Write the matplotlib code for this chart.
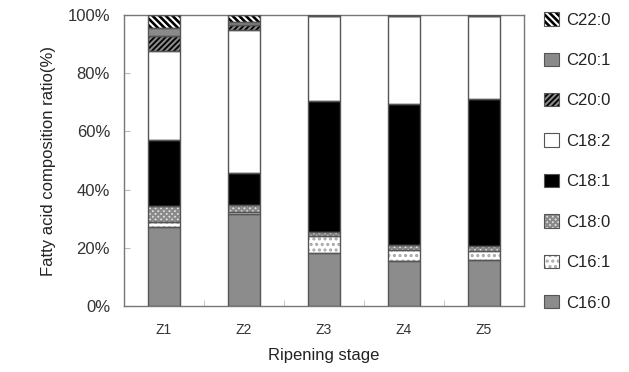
import matplotlib
matplotlib.use("Agg")
import matplotlib.pyplot as plt
import numpy as np
from matplotlib.patches import Patch

plt.rcParams['font.family'] = ['Liberation Sans', 'DejaVu Sans']
plt.rcParams['hatch.linewidth'] = 1.5

stages = ["Z1", "Z2", "Z3", "Z4", "Z5"]
acids = ["C16:0", "C16:1", "C18:0", "C18:1", "C18:2", "C20:0", "C20:1", "C22:0"]
# percentage of each fatty acid per stage
c16_0 = [27.2, 31.5, 18.3, 15.6, 15.8]
c16_1 = [1.8, 0.9, 5.9, 3.6, 3.1]
c18_0 = [5.5, 2.3, 1.1, 1.8, 1.7]
c18_1 = [22.5, 11.1, 45.1, 48.3, 50.5]
c18_2 = [30.7, 49.0, 29.1, 30.2, 28.4]
c20_0 = [5.2, 1.8, 0.2, 0.2, 0.2]
c20_1 = [2.5, 0.9, 0.2, 0.2, 0.2]
c22_0 = [4.6, 2.5, 0.1, 0.1, 0.1]
series = [c16_0, c16_1, c18_0, c18_1, c18_2, c20_0, c20_1, c22_0]

styles = [
    dict(fc="#8c8c8c", hatch=None, hc=None),
    dict(fc="white", hatch="...", hc="#a8a8a8"),
    dict(fc="#e0e0e0", hatch="xxxxxx", hc="#8a8a8a"),
    dict(fc="black", hatch=None, hc=None),
    dict(fc="white", hatch=None, hc=None),
    dict(fc="black", hatch="//////", hc="#8a8a8a"),
    dict(fc="#8a8a8a", hatch=None, hc=None),
    dict(fc="black", hatch="\\" * 5, hc="white"),
]

fig = plt.figure(figsize=(6.29, 3.72), dpi=100)
ax = fig.add_axes([0.197, 0.177, 0.636, 0.783])

x = np.arange(len(stages))
w = 0.41
bottom = np.zeros(len(stages))
for vals, st in zip(series, styles):
    vals = np.array(vals)
    if st["hatch"]:
        ax.bar(x, vals, w, bottom=bottom, color=st["fc"], edgecolor=st["hc"],
               hatch=st["hatch"], linewidth=0, zorder=2)
    else:
        ax.bar(x, vals, w, bottom=bottom, color=st["fc"], linewidth=0, zorder=2)
    ax.bar(x, vals, w, bottom=bottom, fill=False, edgecolor="#555555",
           linewidth=1.0, zorder=3)
    bottom += vals

ax.set_xlim(-0.5, len(stages) - 0.5)
ax.set_ylim(0, 100)
ax.set_xticks(x)
ax.set_xticklabels(stages)
ax.set_xticks(np.arange(0.5, len(stages) - 1, 1.0), minor=True)
ax.tick_params(axis="x", which="major", length=0, pad=12, labelsize=10, labelcolor="#333333")
ax.tick_params(axis="x", which="minor", direction="in", length=4, color="#bbbbbb")
ax.set_yticks(np.arange(0, 101, 20))
ax.set_yticklabels([f"{v}%" for v in range(0, 101, 20)])
ax.tick_params(axis="y", direction="in", length=4, color="#bbbbbb", labelsize=12,
               pad=10, labelcolor="#333333")
for s in ax.spines.values():
    s.set_color("#777777")
    s.set_linewidth(1.0)

ax.set_xlabel("Ripening stage", fontsize=12, labelpad=8, color="#222222")
ax.set_ylabel("Fatty acid composition ratio(%)", fontsize=12, labelpad=8, color="#222222")

handles = []
for name, st in zip(acids, styles):
    outline = Patch(facecolor="none", edgecolor="#555555", linewidth=0.8)
    if st["hatch"]:
        fill = Patch(facecolor=st["fc"], edgecolor=st["hc"], hatch=st["hatch"],
                     linewidth=0.0)
    else:
        fill = Patch(facecolor=st["fc"], linewidth=0.0)
    handles.append((fill, outline))
leg = fig.legend(handles[::-1], acids[::-1], loc="upper left",
                 bbox_to_anchor=(0.855, 0.985), frameon=False, fontsize=12,
                 labelspacing=1.5, handlelength=0.9, handleheight=0.85,
                 handletextpad=0.4, borderaxespad=0)
for t in leg.get_texts():
    t.set_color("#222222")

fig.savefig("out.png", dpi=100)
